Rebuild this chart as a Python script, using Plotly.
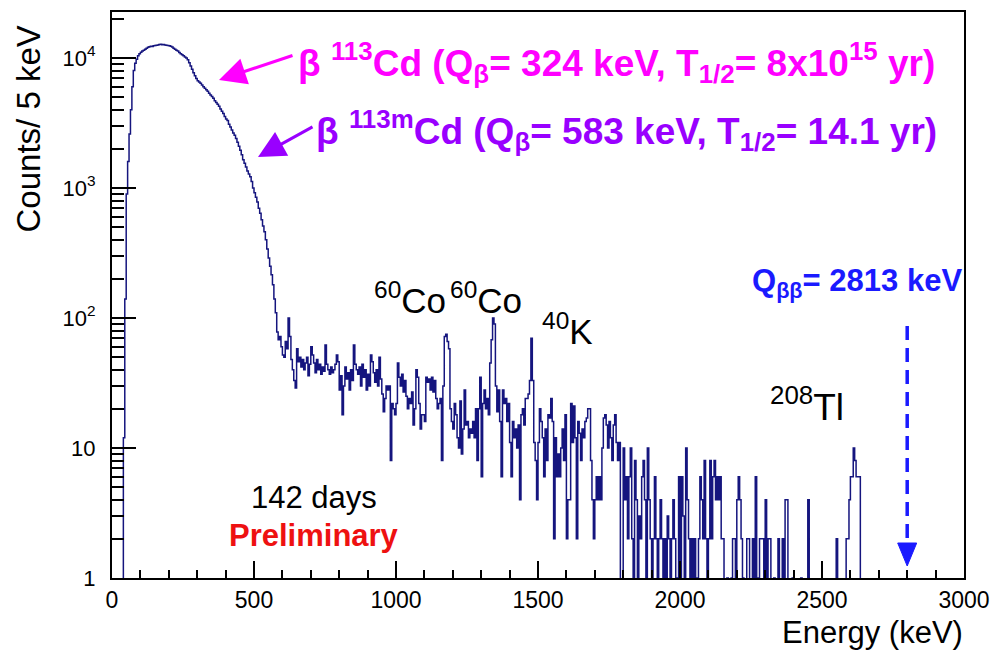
import numpy as np
import plotly.graph_objects as go

# ---------------- data (counts per 5 keV bin) ----------------
bin_width = 5
energy_min, energy_max = 0, 3000

c_0000 = [0, 0, 0, 0, 0, 0, 0, 0, 12, 140, 900, 1600, 2600, 4000, 6000, 8000, 9100, 9800, 10400, 10800]
c_0100 = [11100, 11300, 11500, 11700, 11900, 12100, 12200, 12300, 12250, 12400, 12500, 12550, 12600, 12700, 12750, 12650, 12700, 12600, 12550, 12500]
c_0200 = [12400, 12300, 12150, 11900, 11700, 11500, 11300, 11050, 10800, 10600, 10400, 10200, 10000, 9700, 9200, 8700, 8200, 7700, 7300, 6950]
c_0300 = [6700, 6550, 6400, 6200, 6000, 5850, 5700, 5550, 5350, 5200, 5050, 4900, 4700, 4550, 4400, 4250, 4050, 3900, 3750, 3550]
c_0400 = [3400, 3300, 3100, 2950, 2800, 2650, 2550, 2400, 2250, 2100, 1950, 1800, 1650, 1550, 1450, 1350, 1280, 1220, 1120, 1000]
c_0500 = [920, 850, 780, 700, 640, 570, 510, 460, 400, 340, 290, 250, 215, 180, 140, 110, 78, 68, 72, 60]
c_0600 = [52, 50, 66, 58, 100, 72, 48, 40, 33, 29, 58, 46, 50, 42, 48, 40, 45, 50, 36, 44]
c_0700 = [60, 52, 45, 38, 48, 40, 44, 37, 42, 39, 62, 44, 40, 37, 42, 38, 40, 44, 52, 46]
c_0800 = [28, 36, 18, 30, 42, 34, 38, 28, 40, 33, 62, 44, 40, 37, 42, 30, 44, 35, 40, 28]
c_0900 = [37, 30, 52, 46, 38, 32, 40, 30, 50, 34, 26, 19, 24, 30, 28, 30, 8, 22, 20, 18]
c_1000 = [22, 45, 35, 30, 37, 27, 33, 25, 20, 24, 22, 27, 15, 20, 40, 35, 22, 14, 18, 18]
c_1100 = [16, 35, 32, 34, 28, 35, 27, 33, 24, 20, 22, 24, 8, 30, 72, 75, 66, 58, 20, 16]
c_1200 = [14, 22, 18, 12, 10, 23, 9, 14, 28, 15, 16, 12, 14, 13, 16, 12, 20, 8, 20, 35]
c_1300 = [6, 22, 28, 20, 24, 18, 45, 68, 100, 90, 30, 19, 28, 16, 6, 28, 22, 24, 16, 22]
c_1400 = [11, 6, 16, 12, 14, 10, 15, 4, 18, 20, 15, 24, 24, 26, 33, 70, 33, 11, 8, 4]
c_1500 = [11, 20, 16, 12, 6, 14, 8, 18, 17, 24, 16, 2, 12, 6, 9, 6, 10, 14, 8, 18]
c_1600 = [2, 4, 4, 22, 11, 21, 12, 2, 16, 13, 8, 14, 12, 16, 17, 20, 20, 8, 4, 2]
c_1700 = [4, 6, 4, 6, 4, 10, 17, 18, 15, 10, 16, 12, 8, 15, 18, 11, 8, 11, 0, 0]
c_1800 = [10, 4, 6, 2, 6, 10, 2, 0, 8, 4, 0, 3, 2, 6, 8, 4, 0, 10, 4, 2]
c_1900 = [0, 2, 6, 2, 0, 2, 4, 2, 0, 2, 1, 3, 2, 0, 2, 4, 2, 0, 1, 6]
c_2000 = [0, 6, 3, 0, 10, 4, 2, 0, 2, 0, 2, 0, 1, 2, 6, 4, 2, 8, 2, 1]
c_2100 = [2, 8, 2, 6, 8, 4, 6, 4, 6, 2, 2, 0, 0, 1, 0, 0, 1, 2, 2, 0]
c_2200 = [4, 6, 4, 2, 1, 0, 0, 2, 2, 0, 0, 2, 0, 6, 0, 1, 2, 2, 2, 0]
c_2300 = [4, 0, 2, 2, 0, 0, 1, 0, 0, 2, 0, 0, 2, 0, 4, 4, 0, 0, 0, 1]
c_2400 = [0, 0, 0, 0, 0, 1, 0, 0, 0, 0, 4, 0, 0, 0, 0, 0, 0, 0, 0, 0]
c_2500 = [0, 0, 0, 0, 0, 0, 0, 0, 0, 0, 2, 0, 0, 0, 0, 0, 0, 2, 2, 4]
c_2600 = [6, 6, 10, 8, 6, 6, 6, 0, 0, 0, 0, 0, 0, 0, 0, 0, 0, 0, 0, 0]
c_2700 = [0] * 20
c_2800 = [0] * 20
c_2900 = [0] * 20

rows = [c_0000, c_0100, c_0200, c_0300, c_0400, c_0500, c_0600, c_0700, c_0800, c_0900,
        c_1000, c_1100, c_1200, c_1300, c_1400, c_1500, c_1600, c_1700, c_1800, c_1900,
        c_2000, c_2100, c_2200, c_2300, c_2400, c_2500, c_2600, c_2700, c_2800, c_2900]
counts = np.concatenate([np.array(r, dtype=float) for r in rows])
edges = np.arange(energy_min, energy_max + bin_width, bin_width)
assert len(counts) == len(edges) - 1

q_bb = 2800  # arrow position for Q_bb marker

y_tick_vals = [1, 10, 100, 1000, 10000]
y_tick_text = ["1", "10", "10<sup>2</sup>", "10<sup>3</sup>", "10<sup>4</sup>"]

# ---------------- figure ----------------
W, H = 990, 654
L, R, T, B = 112, 26, 12, 76
PW, PH = W - L - R, H - T - B


def px(x):
    return (x - L) / PW


def py(y):
    return (H - B - y) / PH


# empty bins are drawn on the lower frame edge (below the log axis minimum)
y_disp = np.maximum(counts, 0.5)
fig = go.Figure()
fig.add_trace(go.Scatter(
    x=edges, y=np.append(y_disp, y_disp[-1]),
    mode="lines", line=dict(shape="hv", color="#15157e", width=1.5),
    hoverinfo="skip", showlegend=False,
))

FONT = "Liberation Sans, Arial, Helvetica, sans-serif"

fig.update_layout(
    width=W, height=H,
    margin=dict(l=L, r=R, t=T, b=B, autoexpand=False),
    paper_bgcolor="white", plot_bgcolor="white",
    font=dict(family=FONT, color="black"),
    showlegend=False,
    xaxis=dict(
        range=[energy_min, energy_max], tickmode="linear", tick0=0, dtick=500,
        ticks="inside", ticklen=17, tickwidth=1.5, tickcolor="black",
        minor=dict(ticks="inside", ticklen=8, dtick=100, tickwidth=1.5, tickcolor="black", showgrid=False),
        showline=True, linewidth=2, linecolor="black", mirror=True,
        showgrid=False, zeroline=False, automargin=False,
        tickfont=dict(size=23, family=FONT, color="black"),
    ),
    yaxis=dict(
        type="log", range=[0, 4.354],
        tickmode="array", tickvals=y_tick_vals, ticktext=y_tick_text,
        ticks="inside", ticklen=24, tickwidth=1.5, tickcolor="black",
        minor=dict(ticks="inside", ticklen=12, dtick="D1", tickwidth=1.5, tickcolor="black", showgrid=False),
        showline=True, linewidth=2, linecolor="black", mirror=True,
        showgrid=False, zeroline=False, automargin=False,
        tickfont=dict(size=22, family=FONT, color="black"),
        ticklabelstandoff=10,
    ),
)

ann = []


def text(x, y, s, size, color="black", xanchor="left", yanchor="middle", angle=0):
    ann.append(dict(x=px(x), y=py(y), xref="paper", yref="paper", text=s, showarrow=False,
                    xanchor=xanchor, yanchor=yanchor, textangle=angle,
                    font=dict(size=size, color=color, family=FONT)))


def arrow(x_tip, y_tip, x_tail, y_tail, color, width, size):
    ann.append(dict(x=px(x_tip), y=py(y_tip), xref="paper", yref="paper", text="",
                    showarrow=True, arrowhead=2, arrowsize=size, arrowwidth=width, arrowcolor=color,
                    ax=x_tail - x_tip, ay=y_tail - y_tip, axref="pixel", ayref="pixel", standoff=0))


MAG = "#ff00ff"
PUR = "#9900ff"
BLU = "#1a1aff"

text(296, 63, "<b>β <sup>113</sup>Cd (Q<sub>β</sub>= 324 keV, T<sub>1/2</sub>= 8x10<sup>15</sup> yr)</b>", 37, MAG)
text(314, 130, "<b>β <sup>113m</sup>Cd (Q<sub>β</sub>= 583 keV, T<sub>1/2</sub>= 14.1 yr)</b>", 37, PUR)
arrow(219, 80, 294, 55, MAG, 3, 1.8)
arrow(258, 157, 314, 126, PUR, 3, 1.8)

text(372, 298, "<sup>60</sup>Co", 35)
text(448, 298, "<sup>60</sup>Co", 35)
text(540, 329, "<sup>40</sup>K", 35)
text(768, 404, "<sup>208</sup>Tl", 37)
text(750, 283, "<b>Q<sub>ββ</sub>= 2813 keV</b>", 31, BLU)
text(314, 497, "142 days", 31, xanchor="center")
text(314, 535, "<b>Preliminary</b>", 31, "#ee1111", xanchor="center")

text(965, 632, "Energy (keV)", 31, xanchor="right")
text(28, 24, "Counts/ 5 keV", 33, xanchor="center", yanchor="top", angle=-90)

fig.update_layout(annotations=ann)

# dashed Q_bb arrow
xq = (q_bb - energy_min) / (energy_max - energy_min)
fig.add_shape(type="line", xref="paper", yref="paper", x0=xq, x1=xq, y0=py(326), y1=py(546),
              line=dict(color=BLU, width=3.5, dash="14px,8px"))
hw = 9.5 / PW
fig.add_shape(type="path", xref="paper", yref="paper",
              path=f"M {xq - hw} {py(543)} L {xq + hw} {py(543)} L {xq} {py(566)} Z",
              fillcolor=BLU, line=dict(color=BLU, width=1))

fig.write_html("out.html")
